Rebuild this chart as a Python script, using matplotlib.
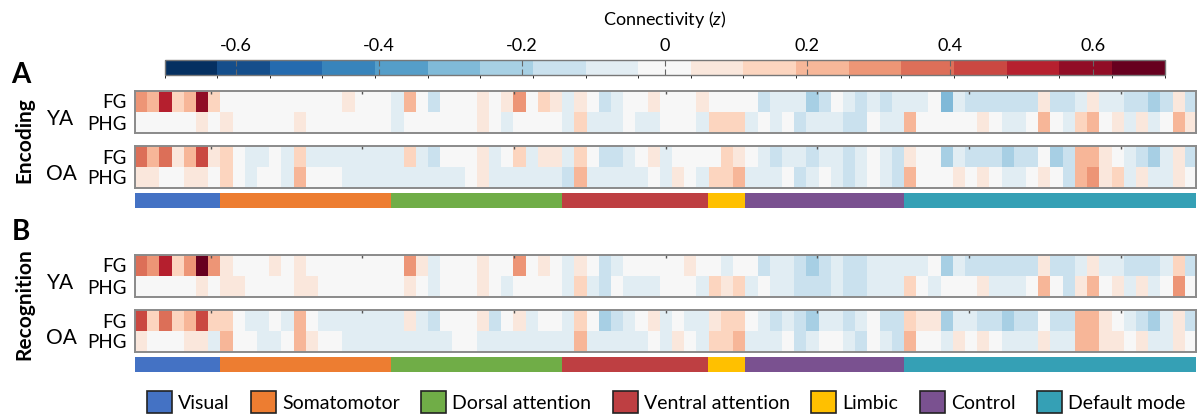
import numpy as np
import matplotlib

matplotlib.use("Agg")
import matplotlib.pyplot as plt
from matplotlib.colors import BoundaryNorm
from matplotlib.cm import ScalarMappable
from matplotlib.patches import Patch

plt.rcParams["font.family"] = ["Lato", "DejaVu Sans"]
plt.rcParams["mathtext.fontset"] = "custom"
plt.rcParams["mathtext.it"] = "Lato:italic"
plt.rcParams["mathtext.rm"] = "Lato"

# networks, in parcel order
net_names = ["Visual", "Somatomotor", "Dorsal attention", "Ventral attention",
             "Limbic", "Control", "Default mode"]
net_sizes = [7, 14, 14, 12, 3, 13, 24]
net_colors = ["#4472c4", "#ed7d31", "#70ad47", "#be3f42", "#ffc000", "#7a5190", "#35a0b5"]

seeds = ["FG", "PHG"]
groups = ["YA", "OA"]

# Seed-to-parcel connectivity (z), 87 parcels per row
enc_ya_fg = [0.29, 0.22, 0.52, 0.15, 0.22, 0.59, 0.15, 0, 0, 0,
             0, 0, 0, 0, 0, 0, 0, 0.07, 0, 0,
             0, -0.07, 0.22, 0, -0.15, 0, 0, 0, 0.07, 0,
             0.07, 0.29, 0, 0.15, 0.07, -0.07, 0.07, 0, -0.15, -0.07,
             0, 0, 0.07, 0, 0, 0, 0.07, 0, 0, 0,
             0, -0.15, -0.07, -0.07, -0.07, -0.22, -0.15, 0, -0.07, -0.15,
             -0.07, -0.15, -0.07, -0.07, -0.07, 0, -0.29, -0.07, -0.15, -0.15,
             -0.15, -0.15, -0.15, -0.15, 0.07, -0.15, -0.15, -0.07, 0.07, -0.07,
             -0.07, -0.15, -0.15, -0.22, -0.15, 0.07, -0.15]
enc_ya_phg = [0, 0, 0, 0, 0, 0.07, 0, 0.07, 0, 0,
              0, 0, 0, 0.07, 0, 0, 0, 0, 0, 0,
              0, -0.07, 0, 0, 0, 0, 0, 0, 0.07, 0,
              -0.07, 0, 0, 0, 0, -0.07, 0.15, -0.07, -0.07, -0.07,
              0, -0.07, -0.07, 0, 0, 0, -0.07, 0.15, 0.15, 0.15,
              -0.07, 0, -0.07, 0, -0.15, -0.07, -0.07, -0.07, -0.15, -0.15,
              0, -0.07, -0.07, 0.22, 0, 0, 0, 0, 0, 0.07,
              0, -0.07, -0.07, 0, 0.22, 0, -0.07, 0.15, 0.22, 0,
              0.07, -0.07, 0.07, -0.07, 0, 0.22, 0.07]
enc_oa_fg = [0.37, 0.22, 0.37, 0.07, 0.22, 0.44, 0.07, 0.15, 0, -0.07,
             -0.07, 0, -0.07, 0.15, -0.07, -0.07, -0.07, -0.07, -0.07, -0.07,
             -0.07, -0.07, 0.15, -0.07, -0.15, 0, 0, 0, 0.07, -0.07,
             0, 0.15, -0.07, 0.07, 0.07, -0.07, 0.15, 0, -0.15, -0.15,
             -0.07, 0, 0.07, -0.07, 0, 0, 0, 0, 0.15, 0.07,
             0, -0.07, -0.15, -0.07, -0.07, -0.15, -0.07, -0.07, -0.15, -0.07,
             0, -0.07, -0.15, 0.07, 0, 0, -0.22, -0.07, -0.15, -0.15,
             -0.15, -0.22, -0.15, -0.15, 0, -0.22, -0.15, 0.22, 0.22, 0.07,
             0, -0.07, -0.15, -0.22, -0.07, 0.07, -0.15]
enc_oa_phg = [0.07, 0.07, 0, 0, 0.07, 0.07, 0, 0.15, 0, -0.07,
              0, 0, -0.07, 0.22, 0, 0, 0, -0.07, -0.07, -0.07,
              -0.07, -0.07, -0.07, -0.07, -0.07, -0.07, -0.07, 0, 0.07, -0.07,
              -0.07, -0.07, -0.07, -0.07, -0.07, -0.15, 0.22, -0.07, -0.07, -0.07,
              -0.07, -0.07, 0, -0.07, 0.07, 0, -0.07, 0.15, 0.15, 0.22,
              -0.07, -0.07, -0.07, 0, -0.15, -0.07, 0, -0.07, -0.15, -0.07,
              0, -0.07, -0.15, 0.22, 0, 0, 0, 0.07, 0, 0.07,
              0, -0.07, -0.07, 0, 0.07, 0, -0.15, 0.22, 0.29, 0.07,
              0.15, -0.07, 0.07, -0.07, -0.07, 0.07, 0]

rec_ya_fg = [0.37, 0.29, 0.52, 0.15, 0.29, 0.66, 0.29, 0.07, 0, 0,
             0, 0.07, 0, 0.07, 0, 0, 0, 0, 0, 0,
             0, 0, 0.29, 0.07, -0.07, 0, 0, 0, 0.07, 0,
             0, 0.29, 0, 0.07, 0, -0.07, 0.07, 0, -0.15, -0.07,
             0, 0, 0, 0, 0, 0.07, 0, 0, -0.07, 0,
             0, -0.15, -0.07, -0.07, -0.15, -0.22, -0.15, -0.07, -0.15, -0.15,
             -0.07, -0.07, -0.07, -0.07, -0.07, 0, -0.22, -0.07, -0.15, -0.15,
             -0.15, -0.15, -0.15, -0.15, 0.07, -0.15, -0.15, -0.07, 0.07, -0.07,
             -0.07, -0.15, -0.15, -0.15, -0.07, 0.15, -0.15]
rec_ya_phg = [0, 0, 0, 0, 0, 0.07, 0, 0.07, 0.07, 0,
              0, 0, 0, 0.07, 0.07, 0, 0, 0, 0, 0,
              0, 0, 0.07, 0, -0.07, 0, 0, 0, 0.07, 0,
              -0.07, 0, 0, 0, 0, -0.07, 0.15, -0.07, -0.15, 0,
              -0.07, -0.07, -0.07, 0, 0, 0, -0.07, 0.15, 0.07, 0.15,
              -0.07, 0, -0.07, -0.07, -0.15, -0.15, -0.15, -0.07, -0.15, -0.15,
              -0.07, -0.07, -0.07, 0.15, 0, -0.07, 0, 0, 0, 0.07,
              -0.07, -0.07, -0.07, 0, 0.22, 0, -0.15, 0.07, 0.22, 0,
              0.07, -0.07, 0.07, -0.07, 0, 0.29, 0]
rec_oa_fg = [0.44, 0.15, 0.37, 0.15, 0.22, 0.44, 0.15, 0.15, 0, -0.07,
             -0.07, 0, -0.07, 0.22, 0, -0.07, -0.07, -0.07, -0.07, -0.07,
             -0.07, -0.07, 0.07, -0.07, -0.15, 0, 0, 0, 0.07, -0.15,
             0, 0.07, -0.07, 0, 0, -0.07, 0.15, 0, -0.22, -0.15,
             -0.07, 0, 0.07, -0.07, 0, -0.07, -0.07, 0.07, 0.15, 0.15,
             0, -0.07, -0.15, -0.07, -0.15, -0.22, -0.07, -0.07, -0.15, -0.07,
             0, -0.15, -0.15, 0.15, 0.07, 0.07, -0.22, -0.07, -0.07, -0.15,
             -0.15, -0.22, -0.15, -0.15, 0, -0.15, -0.15, 0.22, 0.22, 0.07,
             0, -0.07, -0.15, -0.22, -0.07, 0.07, -0.15]
rec_oa_phg = [0.07, 0, 0, 0, 0.07, 0.07, -0.07, 0.22, 0, 0,
              -0.07, -0.07, 0, 0.22, 0.07, 0, 0, -0.07, -0.07, -0.07,
              -0.07, -0.07, -0.07, -0.07, -0.07, -0.07, 0, 0, -0.07, -0.07,
              -0.07, -0.07, -0.07, -0.07, -0.07, -0.07, 0.22, -0.07, -0.07, -0.07,
              -0.07, -0.07, 0, -0.07, 0.07, 0, -0.07, 0.15, 0.15, 0.22,
              -0.07, -0.07, -0.07, 0, -0.15, -0.07, 0, 0, -0.07, -0.15,
              0, -0.07, -0.15, 0.22, 0, 0, -0.07, 0.07, 0, 0.07,
              0, -0.07, -0.07, -0.07, 0.07, -0.07, -0.07, 0.22, 0.22, 0.07,
              0.07, 0, 0.07, -0.07, -0.07, 0.07, 0]

cbar_ticks = [-0.6, -0.4, -0.2, 0, 0.2, 0.4, 0.6]
cbar_ticklabels = ["-0.6", "-0.4", "-0.2", "0", "0.2", "0.4", "0.6"]

W, H = 1198, 416
fig = plt.figure(figsize=(W / 100, H / 100), dpi=100)


def px_axes(x0, y0, x1, y1):
    return fig.add_axes([x0 / W, 1 - y1 / H, (x1 - x0) / W, (y1 - y0) / H])


n_parcels = sum(net_sizes)
cmap = plt.get_cmap("RdBu_r", 19)
norm = BoundaryNorm(np.linspace(-0.7, 0.7, 20), 19)
edge = "#8a8a8a"


def draw_panel(ax, fg, phg):
    ax.imshow(np.array([fg, phg]), cmap=cmap, norm=norm, aspect="auto",
              interpolation="nearest", extent=(0, n_parcels, 2, 0))
    ax.set_yticks([0.5, 1.5])
    ax.set_yticklabels(seeds, fontsize=13.5)
    ax.tick_params(axis="y", length=0, pad=6)
    ax.set_xticks([n_parcels * (i + 0.5) / 7 for i in range(7)])
    ax.tick_params(axis="x", top=True, bottom=False, labelbottom=False,
                   direction="in", length=2.5, width=1, color="#555555")
    for sp in ax.spines.values():
        sp.set_color(edge)
        sp.set_linewidth(1.4)


def draw_networks(ax):
    starts = np.cumsum([0] + net_sizes[:-1])
    ax.barh(0, net_sizes, left=starts, height=1, color=net_colors, edgecolor="none")
    ax.set_xlim(0, n_parcels)
    ax.set_ylim(-0.5, 0.5)
    ax.axis("off")


x0, x1 = 135, 1196.4
blocks = [
    ("A", "Encoding", 91, 75, [(enc_ya_fg, enc_ya_phg), (enc_oa_fg, enc_oa_phg)]),
    ("B", "Recognition", 255, 232, [(rec_ya_fg, rec_ya_phg), (rec_oa_fg, rec_oa_phg)]),
]
for letter, cond, top, letter_y, panels in blocks:
    for i, (fg, phg) in enumerate(panels):
        y0 = top + i * 55
        ax = px_axes(x0, y0, x1, y0 + 42)
        draw_panel(ax, fg, phg)
        fig.text(61 / W, 1 - (y0 + 28) / H, groups[i], fontsize=15,
                 ha="center", va="center")
    bar = px_axes(x0, top + 102, x1, top + 117)
    draw_networks(bar)
    fig.text(24 / W, 1 - (top + 49) / H, cond, fontsize=15, fontweight="bold",
             rotation=90, ha="center", va="center")
    fig.text(21 / W, 1 - letter_y / H, letter, fontsize=20, fontweight="bold",
             ha="center", va="center")

# colour scale
cax = px_axes(164.6, 60, 1164.5, 75)
cb = fig.colorbar(ScalarMappable(norm=norm, cmap=cmap), cax=cax,
                  orientation="horizontal", ticks=cbar_ticks)
cb.ax.set_xticklabels(cbar_ticklabels)
cb.ax.tick_params(axis="x", top=True, bottom=True, labeltop=True, labelbottom=False,
                  direction="in", length=4, width=0.8, color="#666666",
                  labelsize=13, pad=4)
cb.ax.xaxis.set_label_position("top")
cb.set_label("Connectivity ($z$)", fontsize=13, labelpad=10)
cb.outline.set_edgecolor("#777777")
cb.outline.set_linewidth(1)

handles = [Patch(facecolor=c, edgecolor="#222222", linewidth=1.2, label=n)
           for n, c in zip(net_names, net_colors)]
fig.legend(handles=handles, loc="center", bbox_to_anchor=(666 / W, 1 - 402 / H),
           ncol=7, frameon=False, fontsize=14, handlelength=1.3, handleheight=1.3,
           handletextpad=0.3, columnspacing=1.1, borderaxespad=0)

fig.savefig("out.png", dpi=100)
